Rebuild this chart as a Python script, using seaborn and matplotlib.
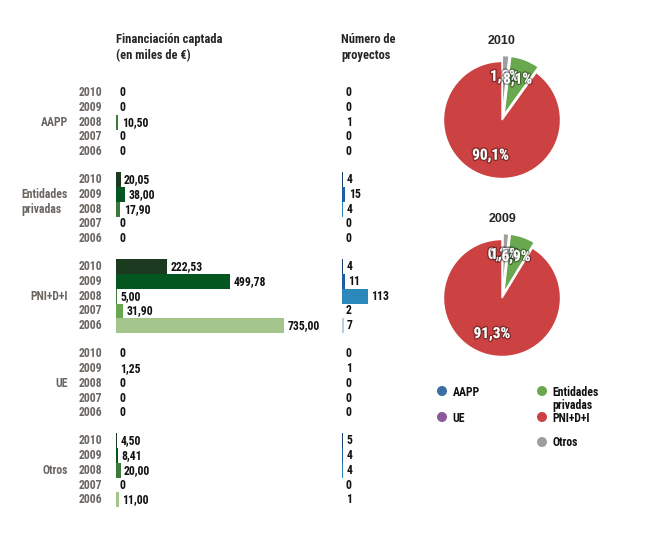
import matplotlib
matplotlib.use("Agg")
import matplotlib.pyplot as plt
import matplotlib.patheffects as pe
from matplotlib import font_manager as fm
import seaborn as sns
import pandas as pd

# datos
grupos = ["AAPP", "Entidades\nprivadas", "PNI+D+I", "UE", "Otros"]
anios = ["2010", "2009", "2008", "2007", "2006"]

fin_aapp = [0, 0, 10.50, 0, 0]
fin_entidades = [20.05, 38.00, 17.90, 0, 0]
fin_pni = [222.53, 499.78, 5.00, 31.90, 735.00]
fin_ue = [0, 1.25, 0, 0, 0]
fin_otros = [4.50, 8.41, 20.00, 0, 11.00]

proy_aapp = [0, 0, 1, 0, 0]
proy_entidades = [4, 15, 4, 0, 0]
proy_pni = [4, 11, 113, 2, 7]
proy_ue = [0, 1, 0, 0, 0]
proy_otros = [5, 4, 4, 0, 1]

leyenda = ["AAPP", "Entidades\nprivadas", "UE", "PNI+D+I", "Otros"]
pie_anios = ["2010", "2009"]

# colores
col_fin = {"2010": "#1b3a1f", "2009": "#03561f", "2008": "#3e7a3c",
           "2007": "#6aa84f", "2006": "#a4c68c"}
col_proy = {"2010": "#1a3f73", "2009": "#1f5fa0", "2008": "#2a88bb",
            "2007": "#a9bfdc", "2006": "#b8cce4"}
col_pie = {"AAPP": "#3b6ea5", "Entidades\nprivadas": "#6aa84f", "UE": "#8a5a9a",
           "PNI+D+I": "#cc4141", "Otros": "#9e9e9e"}
gris = "#6b6661"

sns.set_theme(style="white")
plt.rcParams["font.family"] = ["Liberation Sans", "DejaVu Sans"]


# buscar una fuente estrecha en negrita
def buscar_estrecha():
    prefer = ["Liberation Sans Narrow", "Roboto", "Noto Sans", "Open Sans", "DejaVu Sans", ""]
    cands = []
    for f in fm.fontManager.ttflist:
        st = f.stretch
        if isinstance(st, str):
            st = fm.stretch_dict.get(st, 500)
        w = f.weight
        if isinstance(w, str):
            w = fm.weight_dict.get(w, 400)
        narrow = st <= 400 or "Narrow" in f.name or "Condensed" in f.name
        if narrow and 600 <= w <= 800 and f.style == "normal" and "Extra" not in f.fname:
            for k, p in enumerate(prefer):
                if p in f.name:
                    cands.append((k, abs(w - 700), abs(st - 300), f.fname))
                    break
    cands.sort()
    return cands[0][-1] if cands else None


COND = buscar_estrecha()


def fp(size):
    if COND:
        return fm.FontProperties(fname=COND, size=size)
    return fm.FontProperties(family=["Liberation Sans", "DejaVu Sans"], weight="bold", size=size * 0.88)


W, H = 665, 560
fig = plt.figure(figsize=(W / 100, H / 100), dpi=100)


def box(left, top, right, bottom):
    return [left / W, 1 - bottom / H, (right - left) / W, (bottom - top) / H]


# filas: 14.75 px por fila, bloques separados 5.9 filas
ROW_PX, Y0, STEP = 14.75, 92.7, 5.9
AX_TOP, AX_BOT = 60, 540
ylim = ((AX_BOT - Y0) / ROW_PX, (AX_TOP - Y0) / ROW_PX)

fin = [fin_aapp, fin_entidades, fin_pni, fin_ue, fin_otros]
proy = [proy_aapp, proy_entidades, proy_pni, proy_ue, proy_otros]
filas = []
for g, nombre in enumerate(grupos):
    for i, a in enumerate(anios):
        filas.append(dict(grupo=nombre, anio=a, pos=g * STEP + i,
                          fin=fin[g][i], proy=proy[g][i]))
df = pd.DataFrame(filas)

FIN_L, FIN_R, FIN_S = 116, 330, 0.2285
PRO_L, PRO_R, PRO_S = 342, 420, 0.23

ax_fin = fig.add_axes(box(FIN_L, AX_TOP, FIN_R, AX_BOT))
sns.barplot(data=df, x="fin", y="pos", hue="anio", palette=col_fin, orient="y",
            native_scale=True, dodge=False, width=1.0, saturation=1,
            linewidth=0, legend=False, ax=ax_fin)
ax_fin.set_xlim(0, (FIN_R - FIN_L) / FIN_S)
ax_fin.set_ylim(*ylim)
ax_fin.axis("off")

ax_pro = fig.add_axes(box(PRO_L, AX_TOP, PRO_R, AX_BOT))
sns.barplot(data=df, x="proy", y="pos", hue="anio", palette=col_proy, orient="y",
            native_scale=True, dodge=False, width=1.0, saturation=1,
            linewidth=0, legend=False, ax=ax_pro)
ax_pro.set_xlim(0, (PRO_R - PRO_L) / PRO_S)
ax_pro.set_ylim(*ylim)
ax_pro.axis("off")


def fmt_fin(v):
    return "0" if v == 0 else f"{v:.2f}".replace(".", ",")


for _, r in df.iterrows():
    ax_fin.annotate(fmt_fin(r["fin"]), (r["fin"], r["pos"]), xytext=(3.5, 0),
                    textcoords="offset pixels", va="center", ha="left",
                    fontproperties=fp(8.5), color="#111111")
    ax_pro.annotate(str(r["proy"]), (r["proy"], r["pos"]), xytext=(3.5, 0),
                    textcoords="offset pixels", va="center", ha="left",
                    fontproperties=fp(8.5), color="#111111")
    ax_fin.text((102 - FIN_L) / FIN_S, r["pos"], r["anio"], ha="right", va="center",
                fontproperties=fp(8.5), color=gris)

for g, nombre in enumerate(grupos):
    yc = g * STEP + (1.5 if "\n" in nombre else 2)
    ax_fin.text((68 - FIN_L) / FIN_S, yc, nombre, ha="right", va="center",
                multialignment="left", linespacing=1.2,
                fontproperties=fp(8.5), color=gris)

fig.text(FIN_L / W, 1 - 33 / H, "Financiación captada\n(en miles de €)",
         ha="left", va="top", fontproperties=fp(9), linespacing=1.25)
fig.text(341 / W, 1 - 33 / H, "Número de\nproyectos",
         ha="left", va="top", fontproperties=fp(9), linespacing=1.25)

# tartas
orden = ["AAPP", "UE", "Otros", "Entidades\nprivadas", "PNI+D+I"]
centros = [(502, 120), (502, 298)]
for k, (anio, (cx, cy)) in enumerate(zip(pie_anios, centros)):
    tot = {n: fin[grupos.index(n)][k] for n in grupos}
    nombres = [n for n in orden if tot[n] > 0]
    vals = [tot[n] for n in nombres]
    r = 58.5
    half = 80
    ax = fig.add_axes(box(cx - half, cy - half, cx + half, cy + half))
    wedges, _, auto = ax.pie(
        vals, colors=[col_pie[n] for n in nombres], startangle=90,
        counterclock=False, explode=[0 if n == "PNI+D+I" else 0.1 for n in nombres],
        autopct=lambda p: f"{p:.1f}%".replace(".", ","), pctdistance=0.64,
        wedgeprops=dict(edgecolor="white", linewidth=1))
    for t in auto:
        t.set_fontproperties(fp(11))
        t.set_color("white")
        t.set_path_effects([pe.withStroke(linewidth=2, foreground=(0, 0, 0, 0.35))])
    ax.set_xlim(-half / r, half / r)
    ax.set_ylim(-half / r, half / r)
    ax.set_aspect("equal")
    fig.text(cx / W, 1 - (cy - 79) / H, anio, ha="center", va="center",
             fontsize=9, fontweight="bold")

# leyenda
ax_leg = fig.add_axes([0, 0, 1, 1], zorder=-1)
ax_leg.set_xlim(0, W)
ax_leg.set_ylim(H, 0)
ax_leg.axis("off")
pos_leg = {"AAPP": (442, 391), "Entidades\nprivadas": (542, 391), "UE": (442, 417),
           "PNI+D+I": (542, 417), "Otros": (542, 442)}
for n in leyenda:
    x, y = pos_leg[n]
    ax_leg.scatter([x], [y], s=52, color=col_pie[n], edgecolors="none")
    ax_leg.text(x + 10.5, y - 5.5, n, ha="left", va="top", fontproperties=fp(8.5),
                color="#111111", linespacing=1.05)

fig.savefig("out.png", dpi=100, facecolor="white")
